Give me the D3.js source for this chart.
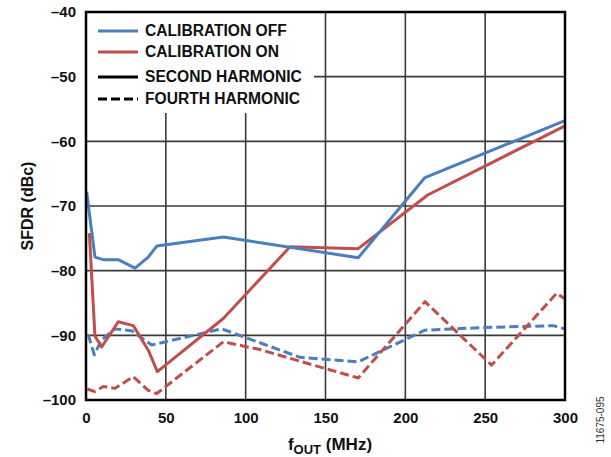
<html>
<head>
<script src="https://d3js.org/d3.v7.min.js"></script>
<style>
  body { margin: 0; background: white; }
  text { font-family: "Liberation Sans", Arial, sans-serif; }
</style>
</head>
<body>
<svg width="611" height="457"></svg>
<script>
// fOUT (MHz) and SFDR (dBc)
var offSecondX = [0.4, 5.6, 10.8, 20.2, 30.7, 39, 44.3, 86, 170.5, 212.3, 300];
var offSecondY = [-67.8, -77.9, -78.3, -78.3, -79.6, -77.9, -76.2, -74.8, -78.0, -65.6, -56.8];

var onSecondX = [2.1, 5.6, 9.8, 20.2, 29.6, 39, 44.7, 86, 127.8, 170.5, 214, 300];
var onSecondY = [-74.2, -90.1, -91.8, -87.9, -88.5, -92.3, -95.6, -87.4, -76.3, -76.6, -68.3, -57.6];

var offFourthX = [1.4, 5.2, 9.8, 18.2, 28.6, 41.1, 85, 134, 170.5, 212.3, 249, 292.7, 299.6];
var offFourthY = [-89.9, -93.0, -90.7, -89.0, -89.3, -91.5, -89.0, -93.4, -94.1, -89.2, -88.8, -88.5, -89.0];

var onFourthX = [0.8, 5.6, 10.8, 18.2, 29.6, 39, 44.3, 86, 109, 134, 170.5, 212.3, 254, 294.8, 299.6];
var onFourthY = [-98.3, -98.7, -97.9, -98.2, -96.4, -98.5, -99.0, -91.0, -92.2, -94.0, -96.6, -84.8, -94.6, -83.5, -84.3];

var xTicks = [0, 50, 100, 150, 200, 250, 300];
var yTicks = [-40, -50, -60, -70, -80, -90, -100];

var legendNames = ["CALIBRATION OFF", "CALIBRATION ON", "SECOND HARMONIC", "FOURTH HARMONIC"];

var blue = "#4a7ebf", red = "#c24e4c";
var mLeft = 86, mTop = 12, mRight = 565, mBottom = 400;
var w = mRight - mLeft, h = mBottom - mTop;

var svg = d3.select("svg");
var xs = d3.scaleLinear().domain([0, 300]).range([0, w]);
var ys = d3.scaleLinear().domain([-100, -40]).range([h, 0]);
var fmt = function(d) { return d < 0 ? "\u2013" + Math.abs(d) : d; };

var g = svg.append("g").attr("transform", "translate(" + mLeft + "," + mTop + ")");

// grid
g.append("g").attr("class", "grid")
  .selectAll("line").data(xTicks.slice(1, -1)).enter().append("line")
  .attr("x1", d => xs(d)).attr("x2", d => xs(d)).attr("y1", 0).attr("y2", h)
  .attr("stroke", "#3a3a3a").attr("stroke-width", 1.6);
g.append("g").attr("class", "grid")
  .selectAll("line").data(yTicks.slice(1, -1)).enter().append("line")
  .attr("y1", d => ys(d)).attr("y2", d => ys(d)).attr("x1", 0).attr("x2", w)
  .attr("stroke", "#3a3a3a").attr("stroke-width", 1.6);

// legend background hides the grid behind it
g.append("rect").attr("x", 1).attr("y", 1).attr("width", 227).attr("height", 100).attr("fill", "white");

// axes (labels only)
var xAxis = g.append("g").attr("transform", "translate(0," + h + ")")
  .call(d3.axisBottom(xs).tickValues(xTicks).tickSize(0).tickPadding(12));
var yAxis = g.append("g")
  .call(d3.axisLeft(ys).tickValues(yTicks).tickSize(0).tickPadding(10).tickFormat(fmt));
[xAxis, yAxis].forEach(function(a) {
  a.select(".domain").remove();
  a.selectAll("text").attr("font-size", 15).attr("font-weight", "bold").attr("fill", "#111")
    .style("font-family", "'Liberation Sans', Arial, sans-serif");
});

// series
var line = d3.line().x(d => xs(d[0])).y(d => ys(d[1]));
function zip(a, b) { return a.map((v, i) => [v, b[i]]); }
var series = [
  {x: offFourthX, y: offFourthY, c: blue, dash: "9,4"},
  {x: onFourthX, y: onFourthY, c: red, dash: "9,4"},
  {x: onSecondX, y: onSecondY, c: red, dash: null},
  {x: offSecondX, y: offSecondY, c: blue, dash: null}
];
g.selectAll("path.series").data(series).enter().append("path")
  .attr("class", "series")
  .attr("d", d => line(zip(d.x, d.y)))
  .attr("fill", "none")
  .attr("stroke", d => d.c)
  .attr("stroke-width", 3)
  .attr("stroke-linejoin", "round")
  .attr("stroke-dasharray", d => d.dash);

// frame
g.append("rect").attr("width", w).attr("height", h)
  .attr("fill", "none").attr("stroke", "#000").attr("stroke-width", 2.5);

// legend
var legStyles = [
  {c: blue, dash: null}, {c: red, dash: null}, {c: "#000", dash: null}, {c: "#000", dash: "9,4"}
];
var legY = [19, 40, 65, 87];
var leg = g.append("g").selectAll("g").data(legendNames).enter().append("g")
  .attr("transform", (d, i) => "translate(12," + legY[i] + ")");
leg.append("line").attr("x1", 0).attr("x2", 40)
  .attr("stroke", (d, i) => legStyles[i].c).attr("stroke-width", 3)
  .attr("stroke-dasharray", (d, i) => legStyles[i].dash);
leg.append("text").attr("x", 47).attr("dy", "0.35em")
  .attr("font-size", 15.6).attr("font-weight", "bold").attr("fill", "#111")
  .text(d => d);

// axis titles
svg.append("text")
  .attr("transform", "translate(33," + (mTop + h / 2) + ") rotate(-90)")
  .attr("text-anchor", "middle").attr("font-size", 16).attr("font-weight", "bold").attr("fill", "#111")
  .text("SFDR (dBc)");

var xt = svg.append("text").attr("x", 330).attr("y", 450)
  .attr("text-anchor", "middle").attr("font-size", 17).attr("font-weight", "bold").attr("fill", "#111");
xt.append("tspan").text("f");
xt.append("tspan").attr("font-size", 13).attr("dy", 4).text("OUT");
xt.append("tspan").attr("dy", -4).text(" (MHz)");

svg.append("text")
  .attr("transform", "translate(604,420) rotate(-90)")
  .attr("text-anchor", "middle").attr("font-size", 10).attr("fill", "#333")
  .text("11675-095");
</script>
</body>
</html>
